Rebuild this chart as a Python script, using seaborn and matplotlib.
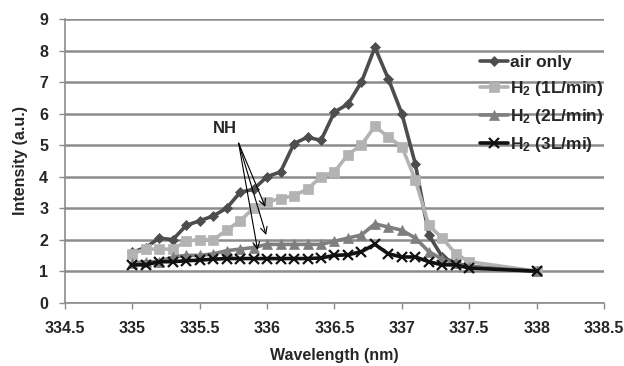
import matplotlib
matplotlib.use("Agg")
import matplotlib.pyplot as plt
import seaborn as sns
import pandas as pd

wavelength = [335.0, 335.1, 335.2, 335.3, 335.4, 335.5, 335.6, 335.7, 335.8, 335.9,
              336.0, 336.1, 336.2, 336.3, 336.4, 336.5, 336.6, 336.7, 336.8, 336.9,
              337.0, 337.1, 337.2, 337.3, 337.4, 337.5, 338.0]
air_only = [1.6, 1.75, 2.05, 2.0, 2.45, 2.6, 2.75, 3.0, 3.5, 3.6,
            4.0, 4.15, 5.05, 5.25, 5.15, 6.05, 6.3, 7.0, 8.1, 7.1,
            6.0, 4.4, 2.15, 1.45, 1.25, 1.15, 1.0]
h2_1 = [1.55, 1.7, 1.7, 1.7, 1.95, 2.0, 2.0, 2.3, 2.6, 3.0,
        3.2, 3.3, 3.4, 3.6, 4.0, 4.15, 4.7, 5.0, 5.6, 5.25,
        4.95, 3.9, 2.45, 2.05, 1.55, 1.3, 1.0]
h2_2 = [1.25, 1.3, 1.3, 1.45, 1.5, 1.5, 1.55, 1.65, 1.7, 1.75,
        1.85, 1.85, 1.85, 1.85, 1.85, 1.95, 2.05, 2.15, 2.5, 2.4,
        2.3, 2.05, 1.62, 1.38, 1.25, 1.14, 1.0]
h2_3 = [1.2, 1.2, 1.3, 1.3, 1.33, 1.35, 1.38, 1.4, 1.4, 1.4,
        1.4, 1.4, 1.4, 1.4, 1.42, 1.5, 1.52, 1.62, 1.85, 1.55,
        1.45, 1.45, 1.3, 1.2, 1.2, 1.1, 1.0]
labels = ["air only", "$\\mathbf{H_2}$ (1L/min)", "$\\mathbf{H_2}$ (2L/min)", "$\\mathbf{H_2}$ (3L/mi)"]
x_ticks = [334.5, 335, 335.5, 336, 336.5, 337, 337.5, 338, 338.5]
x_ticklabels = ["334.5", "335", "335.5", "336", "336.5", "337", "337.5", "338", "338.5"]
y_ticks = [0, 1, 2, 3, 4, 5, 6, 7, 8, 9]

sns.set_theme(style="white")
plt.rcParams["font.family"] = ["Liberation Sans", "DejaVu Sans"]
plt.rcParams["font.weight"] = "bold"
plt.rcParams["mathtext.fontset"] = "custom"
plt.rcParams["mathtext.rm"] = "Liberation Sans:bold"
plt.rcParams["mathtext.bf"] = "Liberation Sans:bold"

fig = plt.figure(figsize=(6.24, 3.66), dpi=100)
ax = fig.add_axes([0.104, 0.173, 0.864, 0.775])

styles = [
    (air_only, "#4d4d4d", "D", 5.5, 2.6),
    (h2_1, "#b3b3b3", "s", 7.5, 2.6),
    (h2_2, "#7f7f7f", "^", 7, 2.6),
    (h2_3, "#111111", "x", 7, 2.6),
]
for (vals, col, mk, ms, lw), lab in zip(styles, labels):
    df = pd.DataFrame({"wl": wavelength, "v": vals})
    sns.lineplot(data=df, x="wl", y="v", ax=ax, color=col, marker=mk,
                 markersize=ms, linewidth=lw, label=lab,
                 markeredgecolor=col, markeredgewidth=1.6 if mk == "x" else 0.5)

ax.set_xlim(334.5, 338.5)
ax.set_ylim(0, 9)
ax.set_xticks(x_ticks)
ax.set_xticklabels(x_ticklabels)
ax.set_yticks(y_ticks)
ax.yaxis.grid(True, color="#8c8c8c", linewidth=1.8)
ax.set_axisbelow(True)
for s in ["top", "right"]:
    ax.spines[s].set_visible(False)
for s in ["left", "bottom"]:
    ax.spines[s].set_color("#8c8c8c")
    ax.spines[s].set_linewidth(1.2)
ax.tick_params(axis="both", direction="out", length=4, width=1, color="#8c8c8c",
               labelsize=11.5, bottom=True, left=True)
ax.tick_params(axis="x", pad=9)
ax.tick_params(axis="y", pad=8)
for t in ax.get_xticklabels() + ax.get_yticklabels():
    t.set_fontweight("bold")
ax.set_xlabel("Wavelength (nm)", fontsize=11.5, fontweight="bold", labelpad=9)
ax.set_ylabel("Intensity (a.u.)", fontsize=11.5, fontweight="bold", labelpad=8)

ax.annotate("NH", xy=(335.69, 5.54), fontsize=12, fontweight="bold",
            ha="center", va="center")
for tip in [(335.987, 3.04), (335.993, 2.15), (335.93, 1.67)]:
    ax.annotate("", xy=tip, xytext=(335.789, 5.06),
                arrowprops=dict(arrowstyle="->", color="black", lw=0.8,
                                shrinkA=0, shrinkB=0, mutation_scale=12))

leg = ax.legend(loc="upper left", bbox_to_anchor=(480 / 624, 1 - 55 / 366),
                bbox_transform=fig.transFigure, frameon=False, fontsize=12.5,
                handlelength=1.6, handletextpad=0.15, labelspacing=0.52,
                borderaxespad=0, borderpad=0)
for t in leg.get_texts():
    t.set_fontweight("bold")

fig.savefig("out.png", dpi=100)
